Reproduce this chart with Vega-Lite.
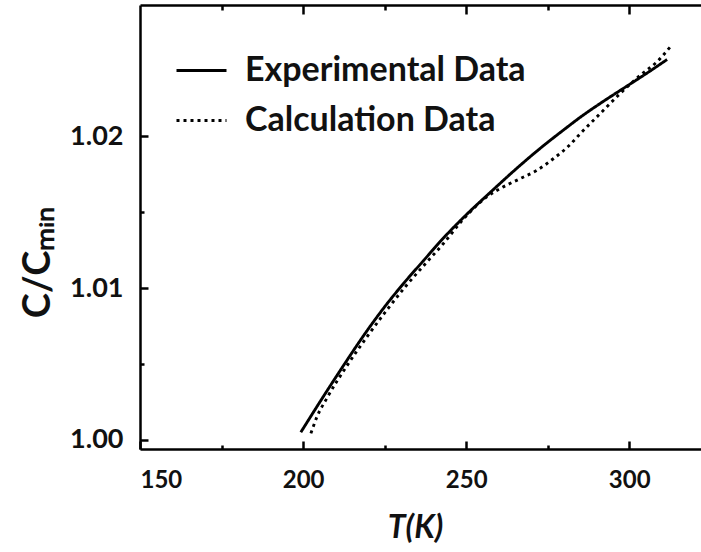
{
  "$schema": "https://vega.github.io/schema/vega-lite/v6.json",
  "width": 561,
  "height": 444,
  "autosize": {"type": "none"},
  "padding": {"left": 140, "top": 5, "right": 0, "bottom": 103},
  "background": "white",
  "config": {
    "view": {"stroke": null},
    "axis": {
      "grid": false,
      "domainColor": "black",
      "tickColor": "black",
      "labelColor": "#111111",
      "labelFont": "Lato",
      "labelFontWeight": "bold",
      "titleFont": "Lato",
      "titleFontWeight": "bold",
      "titleColor": "#111111",
      "domainWidth": 2.5,
      "tickWidth": 2.5
    }
  },
  "data": {
    "values": [
      {"T": 199.3, "v": 1.00050, "series": "Experimental Data"},
      {"T": 206.2, "v": 1.00285, "series": "Experimental Data"},
      {"T": 212.4, "v": 1.00490, "series": "Experimental Data"},
      {"T": 218.5, "v": 1.00685, "series": "Experimental Data"},
      {"T": 224.6, "v": 1.00865, "series": "Experimental Data"},
      {"T": 230.8, "v": 1.01030, "series": "Experimental Data"},
      {"T": 236.9, "v": 1.01180, "series": "Experimental Data"},
      {"T": 242.0, "v": 1.01305, "series": "Experimental Data"},
      {"T": 249.2, "v": 1.01465, "series": "Experimental Data"},
      {"T": 257.4, "v": 1.01630, "series": "Experimental Data"},
      {"T": 265.6, "v": 1.01790, "series": "Experimental Data"},
      {"T": 272.7, "v": 1.01920, "series": "Experimental Data"},
      {"T": 279.8, "v": 1.02040, "series": "Experimental Data"},
      {"T": 285.0, "v": 1.02125, "series": "Experimental Data"},
      {"T": 292.1, "v": 1.02230, "series": "Experimental Data"},
      {"T": 299.3, "v": 1.02330, "series": "Experimental Data"},
      {"T": 305.4, "v": 1.02415, "series": "Experimental Data"},
      {"T": 311.6, "v": 1.02505, "series": "Experimental Data"},
      {"T": 202.4, "v": 1.00043, "series": "Calculation Data"},
      {"T": 204.2, "v": 1.00149, "series": "Calculation Data"},
      {"T": 207.3, "v": 1.00275, "series": "Calculation Data"},
      {"T": 213.2, "v": 1.00480, "series": "Calculation Data"},
      {"T": 219.3, "v": 1.00670, "series": "Calculation Data"},
      {"T": 225.5, "v": 1.00850, "series": "Calculation Data"},
      {"T": 231.6, "v": 1.01015, "series": "Calculation Data"},
      {"T": 237.7, "v": 1.01165, "series": "Calculation Data"},
      {"T": 242.9, "v": 1.01290, "series": "Calculation Data"},
      {"T": 249.2, "v": 1.01455, "series": "Calculation Data"},
      {"T": 256.3, "v": 1.01600, "series": "Calculation Data"},
      {"T": 260.4, "v": 1.01655, "series": "Calculation Data"},
      {"T": 266.6, "v": 1.01721, "series": "Calculation Data"},
      {"T": 271.7, "v": 1.01775, "series": "Calculation Data"},
      {"T": 276.8, "v": 1.01853, "series": "Calculation Data"},
      {"T": 281.4, "v": 1.01935, "series": "Calculation Data"},
      {"T": 285.0, "v": 1.02017, "series": "Calculation Data"},
      {"T": 291.1, "v": 1.02149, "series": "Calculation Data"},
      {"T": 297.2, "v": 1.02281, "series": "Calculation Data"},
      {"T": 303.4, "v": 1.02402, "series": "Calculation Data"},
      {"T": 308.5, "v": 1.02490, "series": "Calculation Data"},
      {"T": 312.6, "v": 1.02589, "series": "Calculation Data"}
    ]
  },
  "layer": [
    {
      "mark": {"type": "line", "color": "black", "strokeWidth": 2.9, "strokeCap": "butt", "interpolate": "monotone"},
      "encoding": {
        "x": {
          "field": "T", "type": "quantitative",
          "scale": {"domain": [150, 322], "nice": false, "zero": false},
          "axis": {
            "orient": "bottom", "values": [150, 200, 250, 300], "tickSize": -8,
            "labelFontSize": 24, "labelPadding": 27,
            "title": "T(K)", "titleFontSize": 32, "titleFontStyle": "italic",
            "titleX": 275, "titleY": 88, "titleAlign": "center", "titleBaseline": "alphabetic"
          }
        },
        "y": {
          "field": "v", "type": "quantitative",
          "scale": {"domain": [0.9994, 1.02864], "nice": false, "zero": false},
          "axis": {
            "orient": "left", "values": [1.0, 1.01, 1.02], "format": ".2f", "tickSize": -8,
            "labelFontSize": 27, "labelPadding": 25,
            "title": "C/Cₘᵢₙ", "titleFontSize": 38, "titleAngle": -90,
            "titleX": -91, "titleY": 257, "titleAlign": "center", "titleBaseline": "alphabetic"
          }
        },
        "strokeDash": {
          "field": "series", "type": "nominal",
          "scale": {"domain": ["Experimental Data", "Calculation Data"], "range": [[1, 0], [3, 4]]},
          "legend": {
            "orient": "none", "legendX": 35, "legendY": 39, "title": null,
            "labelFontSize": 34, "labelFont": "Lato", "labelFontWeight": "bold", "labelColor": "#111111",
            "labelLimit": 0,
            "symbolType": "stroke", "symbolSize": 2500, "symbolStrokeWidth": 2.9, "symbolStrokeColor": "black",
            "labelOffset": 17, "rowPadding": 6
          }
        }
      }
    },
    {
      "mark": {"type": "point", "opacity": 0},
      "encoding": {
        "x": {"field": "T", "type": "quantitative",
          "axis": {"orient": "bottom", "values": [175, 225, 275], "tickSize": -4, "labels": false, "domain": false, "title": null}},
        "y": {"field": "v", "type": "quantitative",
          "axis": {"orient": "left", "values": [1.005, 1.015], "tickSize": -4, "labels": false, "domain": false, "title": null}}
      }
    },
    {
      "mark": {"type": "point", "opacity": 0},
      "encoding": {
        "x": {"field": "T", "type": "quantitative",
          "axis": {"orient": "top", "values": [200, 250, 300], "tickSize": -9, "labels": false, "domain": true, "title": null}},
        "y": {"field": "v", "type": "quantitative", "axis": null}
      }
    },
    {
      "mark": {"type": "point", "opacity": 0},
      "encoding": {
        "x": {"field": "T", "type": "quantitative",
          "axis": {"orient": "top", "values": [175, 225, 275], "tickSize": -5, "labels": false, "domain": false, "title": null}},
        "y": {"field": "v", "type": "quantitative", "axis": null}
      }
    }
  ],
  "resolve": {"axis": {"x": "independent", "y": "independent"}}
}
